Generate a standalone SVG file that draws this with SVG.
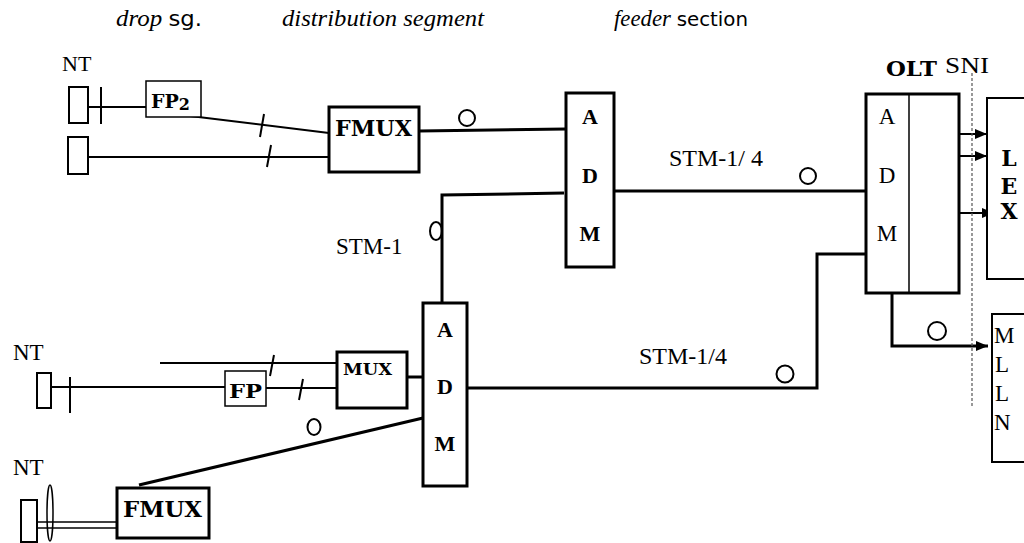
<svg xmlns="http://www.w3.org/2000/svg" width="1024" height="543" viewBox="0 0 1024 543">
<style>
.ln{stroke:#000;stroke-width:2;fill:none}
.ln3{stroke:#000;stroke-width:3;fill:none}
.ln1{stroke:#000;stroke-width:1.5;fill:none}
.thk{stroke:#000;stroke-width:3;fill:#fff}
.thn{stroke:#000;stroke-width:1.5;fill:#fff}
.md{stroke:#000;stroke-width:2;fill:#fff}
.circ{stroke:#000;stroke-width:2;fill:#fff}
.t{font-family:"Liberation Serif","Times New Roman",serif;fill:#000}
.b{font-family:"DejaVu Serif","Liberation Serif",serif;font-weight:bold;fill:#000}
.tb{font-family:"Liberation Serif","Times New Roman",serif;font-weight:bold;fill:#000}
.it{font-style:italic}
.sa{font-family:"DejaVu Sans","Liberation Sans",sans-serif;font-style:normal}
</style>
<defs>
<marker id="arr" viewBox="0 0 12 10" refX="12" refY="5" markerWidth="12" markerHeight="10" markerUnits="userSpaceOnUse" orient="auto">
<path d="M0,0 L12,5 L0,10 z" fill="#000"/>
</marker>
</defs>
<rect width="1024" height="543" fill="#fff"/>

<g id="titles">
<text class="t it" x="116" y="26" font-size="23" textLength="86" lengthAdjust="spacingAndGlyphs">drop <tspan class="sa" font-size="21">sg.</tspan></text>
<text class="t it" x="282" y="26" font-size="24" textLength="202" lengthAdjust="spacingAndGlyphs">distribution segment</text>
<text class="t it" x="614" y="26" font-size="23" textLength="134" lengthAdjust="spacingAndGlyphs">feeder <tspan class="sa" font-size="20">section</tspan></text>
</g>

<g id="connectors">
<line class="ln" x1="88" y1="107" x2="146" y2="107"/>
<line class="ln" x1="101" y1="87" x2="101" y2="124"/>
<line class="ln" x1="182" y1="115" x2="329" y2="133"/>
<line class="ln" x1="264" y1="114" x2="260" y2="137"/>
<line class="ln" x1="88" y1="157" x2="329" y2="157"/>
<line class="ln" x1="271" y1="145" x2="267" y2="167"/>
<line class="ln3" x1="419" y1="131" x2="566" y2="129"/>
<circle class="circ" cx="467" cy="118" r="8"/>
<ellipse class="circ" cx="436" cy="231" rx="6" ry="9"/>
<polyline class="ln3" points="564,193 442,195 442,303"/>
<line class="ln3" x1="614" y1="191" x2="866" y2="191"/>
<circle class="circ" cx="808" cy="176" r="8"/>
<polyline class="ln3" points="866,254 817,254 817,388 467,388"/>
<circle class="circ" cx="785" cy="374" r="8.5"/>
<line class="ln" x1="952" y1="134" x2="987" y2="134" marker-end="url(#arr)"/>
<line class="ln" x1="952" y1="156" x2="987" y2="156" marker-end="url(#arr)"/>
<line class="ln" x1="952" y1="213" x2="994" y2="213" marker-end="url(#arr)"/>
<polyline class="ln3" points="892,293 892,346 988,346" marker-end="url(#arr)"/>
<circle class="circ" cx="937" cy="331" r="9"/>
<line x1="972" y1="73" x2="972" y2="408" stroke="#555" stroke-width="1.2" stroke-dasharray="3,2"/>
<line class="ln" x1="49" y1="387" x2="225" y2="387"/>
<line class="ln" x1="70" y1="377" x2="70" y2="413"/>
<line class="ln" x1="266" y1="388" x2="337" y2="388"/>
<line class="ln" x1="303" y1="379" x2="299" y2="400"/>
<line class="ln" x1="160" y1="363" x2="337" y2="363"/>
<line class="ln" x1="274" y1="355" x2="270" y2="376"/>
<line class="ln3" x1="407" y1="377" x2="423" y2="377"/>
<line class="ln3" x1="423" y1="418" x2="139" y2="485"/>
<ellipse class="circ" cx="314" cy="427" rx="6.5" ry="8"/>
<line class="ln1" x1="37" y1="522" x2="117" y2="522"/>
<line class="ln1" x1="37" y1="528" x2="117" y2="528"/>
<ellipse class="ln1" cx="50" cy="513" rx="3" ry="28"/>
</g>

<g id="nt1">
<text class="t" x="62" y="71" font-size="22">NT</text>
<rect class="md" x="69" y="87" width="19" height="36"/>
</g>
<g id="nt2">
<rect class="md" x="68" y="137" width="20" height="37"/>
</g>
<g id="fp2">
<rect class="thn" x="146" y="81" width="55" height="36"/>
<text class="b" x="151" y="108" font-size="19">FP<tspan font-size="16" dy="2">2</tspan></text>
</g>
<g id="fmux1">
<rect class="thk" x="329" y="107" width="90" height="65"/>
<text class="b" x="335" y="136" font-size="22" textLength="77" lengthAdjust="spacingAndGlyphs">FMUX</text>
</g>
<g id="adm1">
<rect class="thk" x="566" y="93" width="48" height="174"/>
<text class="tb" x="590" y="124" font-size="22" text-anchor="middle">A</text>
<text class="tb" x="590" y="183" font-size="22" text-anchor="middle">D</text>
<text class="tb" x="590" y="241" font-size="22" text-anchor="middle">M</text>
</g>
<g id="stm-labels">
<text class="t" x="336" y="254" font-size="23">STM-1</text>
<text class="t" x="669" y="166" font-size="24">STM-1/ 4</text>
<text class="t" x="639" y="364" font-size="24">STM-1/4</text>
</g>
<g id="olt">
<text class="b" x="886" y="76" font-size="20" textLength="51" lengthAdjust="spacingAndGlyphs">OLT</text>
<text class="t" x="945" y="73" font-size="23" textLength="44" lengthAdjust="spacingAndGlyphs">SNI</text>
<rect class="thk" x="866" y="94" width="93" height="199"/>
<line class="ln1" x1="909" y1="94" x2="909" y2="293"/>
<text class="t" x="887" y="124" font-size="23" text-anchor="middle">A</text>
<text class="t" x="887" y="183" font-size="23" text-anchor="middle">D</text>
<text class="t" x="887" y="241" font-size="23" text-anchor="middle">M</text>
</g>
<g id="lex">
<rect class="md" x="987" y="98" width="60" height="181"/>
<text class="b" x="1009" y="166" font-size="22" text-anchor="middle">L</text>
<text class="b" x="1009" y="194" font-size="22" text-anchor="middle">E</text>
<text class="b" x="1009" y="219" font-size="22" text-anchor="middle">X</text>
</g>
<g id="mlln">
<rect class="md" x="992" y="314" width="60" height="148"/>
<text class="t" x="994" y="343" font-size="23">M</text>
<text class="t" x="995" y="372" font-size="23">L</text>
<text class="t" x="995" y="401" font-size="23">L</text>
<text class="t" x="994" y="430" font-size="23">N</text>
</g>
<g id="nt3">
<text class="t" x="13" y="360" font-size="23">NT</text>
<rect class="md" x="37" y="373" width="14" height="35"/>
</g>
<g id="fp">
<rect class="thn" x="225" y="371" width="41" height="35"/>
<text class="b" x="229" y="398" font-size="19" textLength="33" lengthAdjust="spacingAndGlyphs">FP</text>
</g>
<g id="mux">
<rect class="thk" x="337" y="352" width="70" height="56"/>
<text class="b" x="343" y="375" font-size="17" textLength="49" lengthAdjust="spacingAndGlyphs">MUX</text>
</g>
<g id="adm2">
<rect class="thk" x="423" y="303" width="44" height="183"/>
<text class="tb" x="445" y="337" font-size="22" text-anchor="middle">A</text>
<text class="tb" x="445" y="394" font-size="22" text-anchor="middle">D</text>
<text class="tb" x="445" y="451" font-size="22" text-anchor="middle">M</text>
</g>
<g id="nt4">
<text class="t" x="13" y="475" font-size="23">NT</text>
<rect class="md" x="21" y="500" width="16" height="42"/>
</g>
<g id="fmux2">
<rect class="thk" x="117" y="488" width="92" height="50"/>
<text class="b" x="123" y="517" font-size="22" textLength="79" lengthAdjust="spacingAndGlyphs">FMUX</text>
</g>
</svg>
